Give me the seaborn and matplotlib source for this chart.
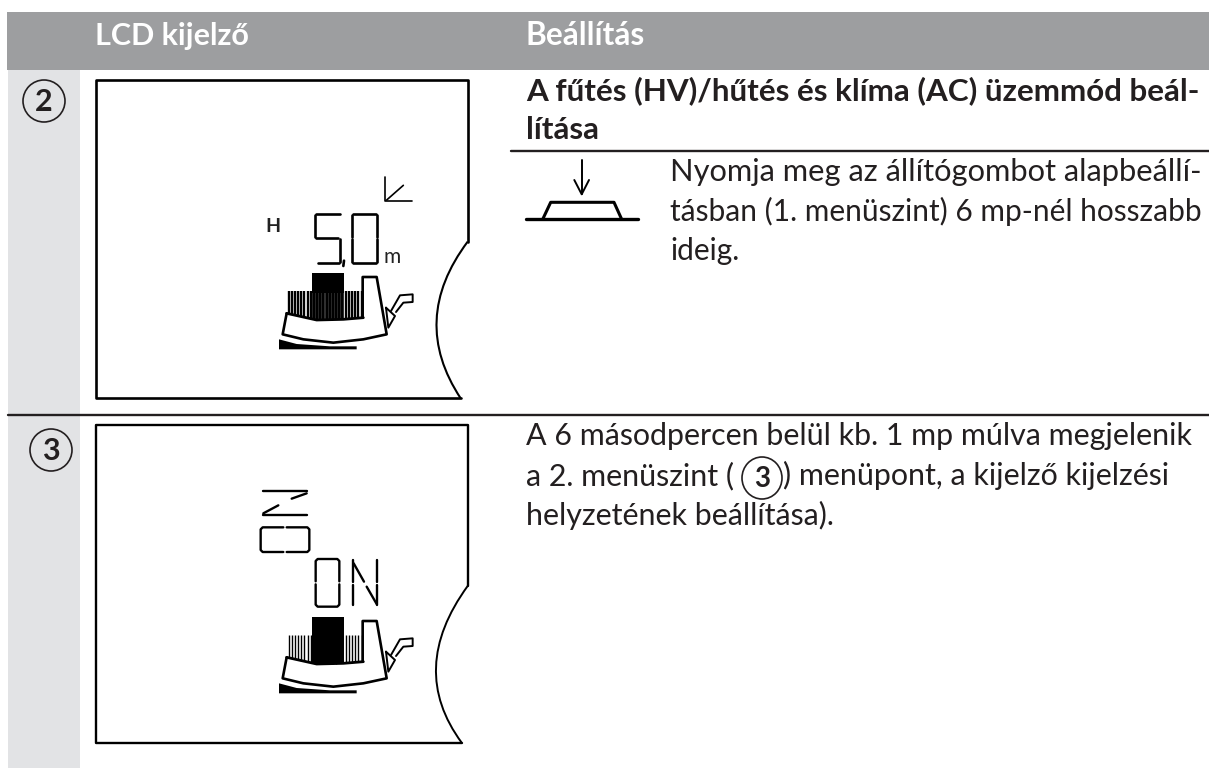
import matplotlib
matplotlib.use("Agg")
import matplotlib.pyplot as plt
from matplotlib.patches import Rectangle, Ellipse, PathPatch
from matplotlib.path import Path
import numpy as np
import seaborn as sns

HEADERS = ["LCD kijelző", "Beállítás"]
HEADING = ["A fűtés (HV)/hűtés és klíma (AC) üzemmód beál-", "lítása"]
STEP_2 = ["Nyomja meg az állítógombot alapbeállí-", "tásban (1. menüszint) 6 mp-nél hosszabb", "ideig."]
STEP_3 = ["A 6 másodpercen belül kb. 1 mp múlva megjelenik", "a 2. menüszint (", ") menüpont, a kijelző kijelzési", "helyzetének beállítása)."]
ROW_NUMBERS = ["2", "3"]

FRAME_1 = [(1193, 725), (1193, 240), (77, 240), (77, 1195), (1172, 1195)]
ARC_1 = [(1193, 725), (1017, 960), (1172, 1195)]
FRAME_2 = [(1193, 558), (1193, 75), (77, 75), (77, 1028), (1175, 1028)]
ARC_2 = [(1193, 558), (1012, 807), (1175, 1028)]

IRON_BODY = [(650, 772), (638, 835), (700, 850), (790, 860), (880, 850), (950, 835), (920, 663), (878, 663), (878, 785)]
IRON_EDGE = [(650, 772), (740, 792), (820, 790), (880, 785)]
IRON_WEDGE = [(627, 850), (680, 864), (780, 871), (860, 871), (860, 880), (627, 880)]
IRON_TRIANGLE = [(948, 755), (975, 780), (955, 815), (948, 755)]
IRON_SPOUT = [(963, 765), (990, 718), (1028, 715), (1028, 738), (1000, 740), (978, 768)]
HATCH_X = [656, 665, 675, 684, 694, 703, 713, 722, 732, 741, 751, 760, 770, 779, 789, 798, 808, 817, 827, 836, 846, 855, 865, 875]

FIVE = [[(738, 643), (810, 643)], [(735, 646), (735, 712)], [(738, 714), (805, 714)],
        [(810, 718), (810, 785)], [(745, 788), (807, 788)], [(822, 782), (820, 798)]]
ZERO = [[(848, 643), (918, 643)], [(845, 646), (845, 710)], [(921, 646), (921, 710)],
        [(845, 718), (845, 785)], [(921, 718), (921, 785)], [(848, 788), (918, 788)]]
CORNER = [[(945, 530), (945, 603), (1025, 603)], [(950, 600), (1000, 556)]]

TURNED_N = [[(578, 272), (712, 272)], [(578, 344), (712, 344)], [(710, 280), (665, 296)], [(625, 316), (580, 340)]]
TURNED_O = [[(640, 382), (578, 382), (572, 388), (572, 450), (578, 456), (640, 456)],
            [(650, 382), (712, 382), (718, 388), (718, 450), (712, 456), (650, 456)]]
LETTER_O = [[(737, 544), (737, 483), (743, 477), (802, 477), (808, 483), (808, 544)],
            [(737, 553), (737, 614), (743, 620), (802, 620), (808, 614), (808, 553)]]
LETTER_N = [[(848, 480), (848, 545)], [(848, 555), (848, 615)], [(922, 480), (922, 545)], [(922, 555), (922, 615)],
            [(851, 490), (882, 545)], [(890, 560), (920, 612)]]

BUTTON_BASE = [(526, 219.3), (637.7, 219.3)]
BUTTON_TOP = [(542.7, 219.3), (550.7, 202.3), (614, 202.3), (621.7, 219.3)]
BUTTON_ARROW = [[(581.7, 160), (581.7, 194)], [(574.3, 180), (581.7, 194.3), (589, 180)]]

DARK = "#231f20"
HEADER_GREY = "#9d9ea0"
STRIP_GREY = "#e2e3e5"

sns.set_theme(style="white")
plt.rcParams["font.family"] = ["Lato", "DejaVu Sans"]

fig = plt.figure(figsize=(12.09, 7.69), dpi=100)
ax = fig.add_axes([0, 0, 1, 1])


def crop(points, top=0):
    pts = np.array(points, dtype=float)
    return 70 + pts[:, 0] / 3, top + pts[:, 1] / 3


def stroke(xs, ys, lw=1.7, color="black"):
    sns.lineplot(x=xs, y=ys, ax=ax, sort=False, estimator=None, color=color, linewidth=lw)


def stroke_all(groups, top=0, lw=1.7):
    for g in groups:
        xs, ys = crop(g, top)
        stroke(xs, ys, lw)


def curve(points, top=0, lw=1.4):
    xs, ys = crop(points, top)
    path = Path(list(zip(xs, ys)), [Path.MOVETO, Path.CURVE3, Path.CURVE3])
    ax.add_patch(PathPatch(path, fill=False, ec="black", lw=lw))


def draw_iron(top, hatch_lw, fill_to, centre=False):
    stroke(*crop(IRON_BODY, top), 1.9)
    stroke(*crop(IRON_EDGE, top), 2.0)
    stroke(*crop(IRON_TRIANGLE, top), 1.4)
    stroke(*crop(IRON_SPOUT, top), 1.4)
    xs, ys = crop(IRON_WEDGE, top)
    ax.fill(xs, ys, color="black", lw=0)
    if centre:
        bx, by = crop([(725, 705), (823, 790)], top)
        ax.add_patch(Rectangle((bx[0], by[0]), bx[1] - bx[0], by[1] - by[0], color="#3a3a3a", lw=0))
    for hx in HATCH_X:
        bottom = np.interp(hx, [650, 740, 820, 880], [772, 792, 790, 785])
        xs, ys = crop([(hx, 705), (hx, bottom)], top)
        ax.vlines(xs[0], ys[0], ys[1], color="black", lw=hatch_lw)
    bx, by = crop([(725, 652), (823, fill_to)], top)
    ax.add_patch(Rectangle((bx[0], by[0]), bx[1] - bx[0], by[1] - by[0], color="black", lw=0))


def write(x, y, s, size=22.2, weight="normal", color=DARK):
    ax.text(x, y, s, fontsize=size, fontweight=weight, color=color, ha="left", va="baseline")


# table background
ax.add_patch(Rectangle((7, 12), 1202, 58, color=HEADER_GREY, lw=0))
ax.add_patch(Rectangle((8, 70), 72, 698, color=STRIP_GREY, lw=0))
stroke([8, 1209], [414.7, 414.7], 1.7, DARK)
stroke([511, 1209], [150.7, 150.7], 1.7, DARK)

write(95, 45, HEADERS[0], 22, "bold", "white")
write(526, 45, HEADERS[1], 22.8, "bold", "white")

# row number circles
for (cx, cy), num in zip([(44, 101), (51, 450)], ROW_NUMBERS):
    ax.add_patch(Ellipse((cx, cy), 42, 42, fill=False, ec=DARK, lw=1.2))
    ax.text(cx, cy + 1, num, fontsize=22, fontweight="bold", color=DARK, ha="center", va="center")

# first display
stroke(*crop(FRAME_1), 1.9)
curve(ARC_1, 0, 1.5)
stroke_all(FIVE, lw=1.9)
stroke_all(ZERO, lw=1.9)
stroke_all(CORNER, lw=1.2)
ax.text(273, 227, "H", fontsize=14, fontweight="bold", color="#222222", ha="center", va="center")
ax.text(392, 257, "m", fontsize=15, color="#222222", ha="center", va="center")
draw_iron(168 / 3, 1.7, 710, centre=True)

# second display
stroke(*crop(FRAME_2, 400), 1.7)
curve(ARC_2, 400, 1.4)
stroke_all(TURNED_N, 400)
stroke_all(TURNED_O, 400)
stroke_all(LETTER_O, 400)
stroke_all(LETTER_N, 400)
draw_iron(400, 1.0, 790)

# right column
write(526, 100, HEADING[0], 22.6, "bold")
write(526, 139, HEADING[1], 22.6, "bold")
stroke(*zip(*BUTTON_BASE), 2.4)
stroke(*zip(*BUTTON_TOP), 2.2)
for g in BUTTON_ARROW:
    stroke(*zip(*g), 1.4)
for y, line, size in zip([180.7, 220.7, 260], STEP_2, [22.2, 21.5, 21.5]):
    write(670, y, line, size)

write(526, 445, STEP_3[0], 21.9)
write(526, 485, STEP_3[1], 21.9)
ax.add_patch(Ellipse((762, 478), 40, 42, fill=False, ec=DARK, lw=1.2))
ax.text(762, 479, "3", fontsize=20, fontweight="bold", color=DARK, ha="center", va="center")
write(783, 485, STEP_3[2], 21.9)
write(526, 525, STEP_3[3], 21.9)

ax.set_xlim(0, 1209)
ax.set_ylim(769, 0)
ax.axis("off")
fig.savefig("out.png", dpi=100)
plt.close(fig)
